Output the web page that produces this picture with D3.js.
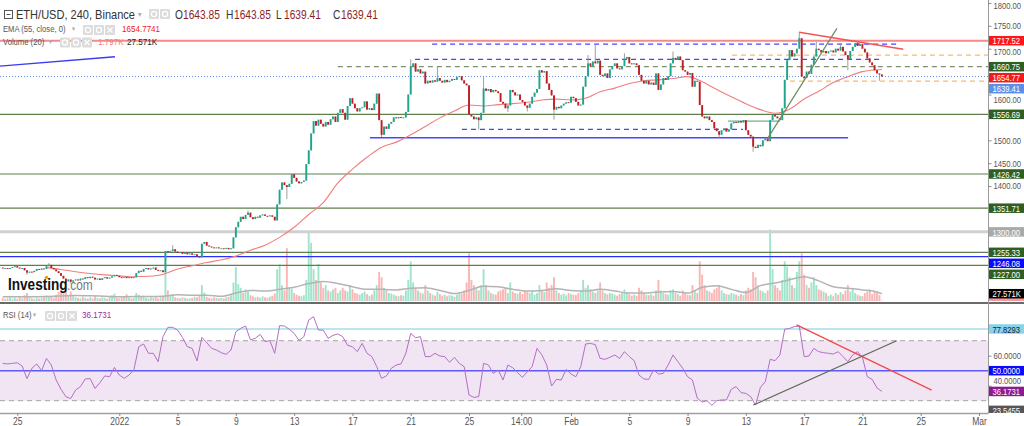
<!DOCTYPE html>
<html>
<head>
<meta charset="utf-8">
<script src="https://cdn.jsdelivr.net/npm/d3@7/dist/d3.min.js"></script>
<style>
  html, body { margin: 0; padding: 0; background: #fff; }
  svg { display: block; font-family: "Liberation Sans", Arial, sans-serif; }
</style>
</head>
<body>
<svg id="chart" width="1024" height="426"></svg>
<script>
// ---- data (4h candles, first one 24 Dec 00:00 UTC) ----
const firstOpen = 1222;
const closes = [
  1220,1221,1219,1221,1223,1225, 1222,1220,1221,1216,1211,1213, 1212,1215,1219,1217,1220,1219,
  1225,1228,1221,1218,1214,1210, 1204,1198,1192,1196,1191,1194, 1196,1194,1198,1197,1201,1199,
  1202,1200,1196,1198,1195,1199, 1201,1198,1200,1203,1206,1204, 1201,1200,1202,1199,1201,1199,
  1201,1210,1215,1213,1219,1221, 1218,1220,1222,1217,1215,1216, 1212,1258,1256,1258,1262,1257,
  1254,1256,1252,1254,1251,1253, 1250,1251,1247,1244,1274,1278, 1270,1268,1266,1265,1266,1264,
  1264,1263,1265,1262,1264,1288, 1310,1322,1333,1328,1337,1342, 1332,1328,1333,1331,1336,1338,
  1335,1334,1336,1333,1325,1360, 1392,1408,1402,1398,1405,1426, 1418,1410,1406,1409,1412,1448,
  1478,1515,1542,1532,1545,1536, 1530,1540,1534,1546,1552,1540, 1560,1568,1560,1545,1575,1592,
  1580,1570,1563,1570,1572,1585, 1567,1570,1566,1580,1602,1544, 1512,1530,1525,1536,1540,1550,
  1548,1551,1549,1550,1562,1600, 1661,1668,1650,1655,1646,1650, 1624,1630,1626,1631,1628,1636,
  1630,1626,1632,1627,1630,1634, 1632,1638,1640,1631,1624,1620, 1556,1552,1546,1550,1544,1560,
  1613,1608,1612,1605,1610,1607, 1603,1584,1580,1570,1576,1610, 1605,1598,1600,1588,1584,1576,
  1571,1580,1595,1604,1612,1653, 1648,1651,1624,1610,1598,1567, 1573,1570,1576,1580,1583,1582,
  1595,1592,1584,1576,1578,1617, 1640,1668,1662,1672,1668,1674, 1643,1640,1646,1636,1655,1662,
  1668,1657,1655,1662,1678,1682, 1668,1666,1668,1664,1643,1630, 1624,1630,1622,1626,1621,1646,
  1610,1622,1636,1632,1640,1668, 1680,1676,1683,1675,1653,1650, 1643,1647,1617,1630,1628,1577,
  1552,1548,1552,1544,1540,1526, 1520,1512,1522,1526,1519,1524, 1537,1540,1538,1542,1539,1544,
  1522,1512,1508,1486,1483,1490, 1487,1500,1504,1498,1544,1556, 1552,1548,1544,1570,1632,1675,
  1697,1683,1690,1700,1723,1639, 1636,1650,1645,1665,1683,1700, 1697,1692,1695,1690,1694,1696,
  1692,1700,1696,1704,1694,1686, 1677,1695,1704,1712,1706,1710, 1700,1692,1679,1670,1664,1653,
  1646,1643.85,1639.41
];
// notable wicks: [candle, high, low]
const wicks = [
  [10,null,1206],[19,1232,null],[28,null,1187],[70,1271,null],[101,1346,null],[117,null,1372],
  [156,null,1507],[168,1677,null],[179,1662,null],[196,null,1524],[198,1638,null],[208,null,1562],
  [216,null,1563],[227,null,1545],[241,1686,null],[244,1708,null],[256,1690,null],[276,1694,null],
  [295,null,1504],[309,null,1475],[328,1737,null],[330,null,1631],[335,1715,null],[345,1712,null],
  [348,null,1653],[352,1716,null],[361,null,1630]
];
// volume, thousands
const volumes = [
  12,8,10,14,9,12,8,16,10,22, 30,14,10,8,12,9,11,14,20,16, 18,12,24,34,40,30,42,22,36,18,
  14,12,10,16,12,9,14,10,18,12, 10,14,12,9,16,22,28,12,10,14, 18,26,14,10,12,30,24,16,20,12,
  10,14,12,16,10,14,18,110,40,22, 26,14,12,10,14,12,9,10,12,16, 14,22,60,32,16,12,10,14,12,10,
  12,10,14,16,22,70,128,64,50,30, 44,36,22,18,14,16,12,18,14,12, 16,20,28,120,138,60,40,200,50,46,
  30,24,20,18,22,80,260,220,120,80, 140,70,50,60,40,36,44,50,30,40, 50,40,36,60,44,30,28,24,30,36,
  26,20,24,40,60,110,90,50,40,30, 28,24,20,18,22,20,40,80,150,70, 50,40,32,28,60,40,30,24,20,34,
  26,20,24,18,22,20,16,24,30,28, 40,70,180,80,60,50,40,60,120,60, 40,30,26,24,36,40,44,50,30,70,
  36,30,28,34,26,40,36,30,40,24, 30,60,40,34,70,50,60,90,40,30, 24,28,22,30,26,24,22,30,40,80,
  50,60,44,36,30,40,70,40,30,26, 30,28,24,20,26,30,44,34,26,20, 24,20,50,40,30,24,22,26,20,40,
  80,40,30,26,24,40,44,30,26,20, 40,30,24,22,60,40,30,150,100,60, 40,36,30,44,50,60,40,30,26,24,
  30,28,24,20,26,22,40,50,44,110, 90,60,40,36,30,40,270,120,60,50, 40,80,150,130,90,60,50,110,150,180,
  100,60,50,70,90,60,44,40,36,30, 20,24,18,30,24,34,26,40,60,36, 50,30,24,20,18,30,36,44,26,34,
  30,22,1.797
];
// volume MA(20): [candle, value]
const volMA = [
  [0,16],[6,16],[12,16],[18,17],[24,19],[30,21],[36,20],[42,18],[48,16],[54,17],
  [60,17],[66,18],[72,24],[78,22],[84,22],[90,18],[96,30],[102,40],[108,38],[114,44],
  [120,52],[126,66],[132,74],[138,66],[144,54],[150,44],[156,44],[162,42],[168,48],[174,50],
  [180,40],[186,28],[192,40],[198,56],[204,54],[210,44],[216,38],[222,40],[228,46],[234,40],
  [240,38],[246,44],[252,38],[258,30],[264,30],[270,34],[276,36],[282,30],[288,52],[294,58],
  [300,44],[306,32],[312,58],[318,68],[324,80],[330,92],[336,76],[342,54],[348,48],[354,42],
  [360,34],[362,27.571]
];
// EMA(55): [candle, value]
const emaPts = [
  [18,1222],[24,1218],[30,1213],[36,1209],[42,1206],[48,1204],[54,1202],[60,1203],[66,1207],[72,1219],
  [78,1226],[84,1233],[90,1239],[96,1247],[102,1260],[108,1271],[114,1288],[120,1310],[126,1338],[132,1364],
  [138,1407],[144,1437],[150,1463],[156,1485],[162,1496],[168,1512],[174,1530],[180,1549],[186,1564],[192,1577],
  [198,1575],[204,1578],[210,1580],[216,1583],[222,1588],[228,1590],[234,1588],[240,1592],[246,1606],[252,1614],
  [258,1624],[264,1630],[270,1632],[276,1635],[282,1639],[288,1628],[294,1611],[300,1595],[306,1580],[312,1567],
  [318,1559],[324,1568],[330,1590],[336,1607],[342,1626],[348,1639],[354,1650],[360,1654],[362,1654.77]
];
// RSI(14), one reading every 2 candles
const rsiVals = [
  54.9,54.5,54.9,55.3,53.1,44.7,51.6,54.5,50,58.2, 53.8,43.8,37.6,32.7,31.4,37.1,39.4,44.5,44.7,38.2,
  42,46.5,46,52.2,47.1,44.9,47.1,50.5,66,67.8, 61.6,61.6,56,72.7,78.9,78.9,77.1,72.2,66,64.9,
  56.5,72.2,68.7,64.9,63.8,62,60.9,63.8,76,78.2, 79.8,70.5,71.6,74.2,69.4,70,61.6,80,79.8,77.6,
  74.9,70.2,72.7,83.8,86,77.1,77.1,71.6,73.6,74.5, 72.7,66.9,66,62.7,68.2,61.6,59.4,52.7,44.9,46.5,
  51.6,53.8,54.5,61.6,74.9,72,72.7,59.4,59.4,61.6, 59.8,59.4,55.6,58.9,54.9,52.7,33.8,32.2,32.7,54.9,
  53.8,48.2,50.5,43.8,53.8,52,48.7,45.6,49.3,52.7, 64.9,60.5,53.8,39.8,44.2,43.8,50.9,47.8,46,52.7,
  67.8,68.2,67.4,58.2,57.6,58.9,60.5,58.2,62.7,59.4, 56.7,47.1,44.5,44.2,50.5,47.8,48.2,53.8,60.5,56,
  51.6,46,43.8,31.6,29.1,30,26.9,30,30.5,30.5, 37.6,39.4,35.4,34.9,32.7,27.1,38.9,42.7,57.6,56.7,
  60.5,77.6,78.2,79.4,79.8,59.4,59.8,64.9,62.7,62, 61.6,61.1,62.7,59.4,56,60.5,62.7,58.9,46,44.2,
  38.5,36.17
];

// horizontal levels
const levelGreen = [1556.69, 1426.42, 1351.71, 1255.33, 1227.00];
const levelRed = 1717.52;
const levelGrey = 1300.00;
const levelBlue = 1246.08;
const pivotLevel = 1660.75;
const lastClose = 1639.41;
const emaLast = 1654.77;
const rsiLevel = 77.8293;
const rsiLast = 36.1731;
const rsiLow = 23.5455;
const volLast = 1.797, volMALast = 27.571;

// drawings in data space: [candleFrom, candleTo, price]
const blueDashed = [[176.8, 368.6, 1710.2], [169.8, 362.1, 1676.8], [189.1, 304.8, 1524.0]];
const blueSolid = [151.2, 348.1, 1505.6];
const orangeDashed = [[300.3, 410, 1686.2], [324.2, 410, 1629.4]];
const tealSeg = [298.6, 320, 1542];
const pivotFrom = 138;
const riseTrend = [[314.7, 1502], [343.5, 1744.5]];
const fallTrend = [[328, 1735.8], [370.8, 1698.7]];
const oldTrend = [[-1.2, 1662], [46.2, 1682.5]];
const rsiFall = [[326.9, 80.5], [382.5, 37.1]];
const rsiRise = [[309.1, 27.1], [368.1, 70]];

const xTickDates = [
  [2021,11,25],[2022,0,1],[2022,0,5],[2022,0,9],[2022,0,13],[2022,0,17],[2022,0,21],[2022,0,25],
  [2022,0,28,14],[2022,1,1],[2022,1,5],[2022,1,9],[2022,1,13],[2022,1,17],[2022,1,21],[2022,1,25],[2022,2,1]
].map(a => new Date(Date.UTC(a[0], a[1], a[2], a[3] || 0)));
const xTickLabels = ['25','2022','5','9','13','17','21','25','14:00','Feb','5','9','13','17','21','25','Mar'];
// scale labels left uncovered by the value tags
const priceTicks = [1800, 1750, 1700, 1600, 1500, 1450, 1400];
const rsiTicks = [60, 40];

// ---- layout ----
const plotR = 988.5;
const priceBot = 301;
const rsiTop = 304, rsiBot = 413;
const SX = 0.85; // fonts on this capture are horizontally squeezed

const svg = d3.select('#chart');
const t0 = Date.UTC(2021, 11, 24);
const tOf = i => new Date(t0 + i * 4 * 3600 * 1000);

const x = d3.scaleUtc()
  .domain([new Date(Date.UTC(2021, 11, 25)), new Date(Date.UTC(2022, 2, 1))])
  .range([17.3, 979]);
const xi = i => x(tOf(i));
const yP = d3.scaleLinear().domain([1227, 1717.52]).range([265.3, 40.7]);
const yV = d3.scaleLinear().domain([0, 270]).range([priceBot, 229.6]);
const yR = d3.scaleLinear().domain([30, 70]).range([400.7, 340.7]);

const candles = closes.map((c, i) => {
  const o = i === 0 ? firstOpen : closes[i - 1];
  return { i, o, c, h: Math.max(o, c), l: Math.min(o, c), v: volumes[i] };
});
wicks.forEach(([i, hi, lo]) => {
  if (hi != null) candles[i].h = Math.max(candles[i].h, hi);
  if (lo != null) candles[i].l = Math.min(candles[i].l, lo);
});

function txt(g, px, py, s, o = {}) {
  return g.append('text')
    .attr('transform', `translate(${px},${py}) scale(${SX},1)`)
    .attr('font-size', o.size || 11)
    .attr('font-weight', o.weight || 'normal')
    .attr('fill', o.fill || '#333')
    .attr('text-anchor', o.anchor || 'start')
    .attr('dominant-baseline', o.base || 'auto')
    .text(s);
}

const defs = svg.append('defs');
defs.append('clipPath').attr('id', 'clipP').append('rect').attr('x', 0).attr('y', 0).attr('width', plotR).attr('height', priceBot);
defs.append('clipPath').attr('id', 'clipR').append('rect').attr('x', 0).attr('y', rsiTop).attr('width', plotR).attr('height', rsiBot - rsiTop);
defs.append('clipPath').attr('id', 'clipTagP').append('rect').attr('x', 0).attr('y', 0).attr('width', 1024).attr('height', priceBot);
defs.append('clipPath').attr('id', 'clipTagR').append('rect').attr('x', 0).attr('y', rsiTop).attr('width', 1024).attr('height', rsiBot - rsiTop);

// ================= price pane =================
const gp = svg.append('g').attr('clip-path', 'url(#clipP)');

// volume
gp.append('g').selectAll('rect').data(candles).join('rect')
  .attr('x', d => xi(d.i) - 0.95).attr('width', 1.9)
  .attr('y', d => yV(d.v)).attr('height', d => priceBot - yV(d.v))
  .attr('fill', d => d.c >= d.o ? '#a2e3cc' : '#f8b6b4');
gp.append('path').datum(volMA)
  .attr('fill', 'none').attr('stroke', '#b4b4b4').attr('stroke-width', 1.5)
  .attr('d', d3.line().x(d => xi(d[0])).y(d => yV(d[1])).curve(d3.curveMonotoneX));

// level lines
const hline = (p, color, w, dash, from, to) => gp.append('line')
  .attr('x1', from == null ? 0 : xi(from)).attr('x2', to == null ? plotR : Math.min(plotR, xi(to)))
  .attr('y1', yP(p)).attr('y2', yP(p))
  .attr('stroke', color).attr('stroke-width', w).attr('stroke-dasharray', dash || null);

hline(levelGrey, '#d0d0d0', 3);
levelGreen.forEach(p => hline(p, '#5e7f4c', 1.2));
hline(levelBlue, '#2c2cff', 1.2);
hline(levelRed, '#f48a8a', 2);
hline(lastClose, '#5b8ee8', 1, '1,2');
hline(pivotLevel, '#7d8f74', 1.3, '5,4', pivotFrom);
blueDashed.forEach(([a, b, p]) => hline(p, '#4646ff', 1.2, '5,4', a, b));
hline(blueSolid[2], '#4646ff', 1.3, null, blueSolid[0], blueSolid[1]);
orangeDashed.forEach(([a, b, p]) => hline(p, '#ffb768', 1.3, '5,4', a, b));
hline(tealSeg[2], '#6aaea0', 1.3, null, tealSeg[0], tealSeg[1]);

// EMA
gp.append('path').datum(emaPts)
  .attr('fill', 'none').attr('stroke', '#f37d7d').attr('stroke-width', 1.1)
  .attr('d', d3.line().x(d => xi(d[0])).y(d => yP(d[1])).curve(d3.curveMonotoneX));

// candles
const gc = gp.append('g');
gc.selectAll('line').data(candles).join('line')
  .attr('x1', d => xi(d.i)).attr('x2', d => xi(d.i))
  .attr('y1', d => yP(d.h)).attr('y2', d => yP(d.l))
  .attr('stroke', '#8a9893').attr('stroke-width', 0.9);
gc.selectAll('rect').data(candles).join('rect')
  .attr('x', d => xi(d.i) - 0.95).attr('width', 1.9)
  .attr('y', d => yP(Math.max(d.o, d.c)))
  .attr('height', d => Math.max(0.9, Math.abs(yP(d.o) - yP(d.c))))
  .attr('fill', d => d.c >= d.o ? '#1fa58d' : '#c01d22');

// trend lines
const seg = (pts, color, w) => gp.append('line')
  .attr('x1', xi(pts[0][0])).attr('y1', yP(pts[0][1]))
  .attr('x2', xi(pts[1][0])).attr('y2', yP(pts[1][1]))
  .attr('stroke', color).attr('stroke-width', w);
seg(riseTrend, '#6f8a5c', 1.2);
seg(fallTrend, '#f25555', 1.5);
seg(oldTrend, '#3b3bf0', 1.3);

// watermark
const wm = svg.append('g');
txt(wm, 8, 290, 'Investing', { size: 16, weight: 'bold', fill: '#111' });
txt(wm, 67, 290, '.com', { size: 14, fill: '#777' });
wm.append('circle').attr('cx', 46.5).attr('cy', 277.5).attr('r', 1.8).attr('fill', '#f39c12');

// ================= RSI pane =================
const gr = svg.append('g').attr('clip-path', 'url(#clipR)');
gr.append('rect').attr('x', 0).attr('width', plotR)
  .attr('y', yR(70)).attr('height', yR(30) - yR(70)).attr('fill', '#f1e5f3');
[70, 30].forEach(v => gr.append('line').attr('x1', 0).attr('x2', plotR).attr('y1', yR(v)).attr('y2', yR(v))
  .attr('stroke', '#a9a2a9').attr('stroke-width', 1).attr('stroke-dasharray', '5,4'));
gr.append('line').attr('x1', 0).attr('x2', plotR).attr('y1', yR(rsiLevel)).attr('y2', yR(rsiLevel))
  .attr('stroke', '#a6dcec').attr('stroke-width', 1.5);
gr.append('line').attr('x1', 0).attr('x2', plotR).attr('y1', yR(50)).attr('y2', yR(50))
  .attr('stroke', '#5a5aff').attr('stroke-width', 1.5);
gr.append('path').datum(rsiVals)
  .attr('fill', 'none').attr('stroke', '#b26fc4').attr('stroke-width', 1)
  .attr('d', d3.line().x((d, k) => xi(k * 2)).y(d => yR(d)));
const rseg = (pts, color, w) => gr.append('line')
  .attr('x1', xi(pts[0][0])).attr('y1', yR(pts[0][1]))
  .attr('x2', xi(pts[1][0])).attr('y2', yR(pts[1][1]))
  .attr('stroke', color).attr('stroke-width', w);
rseg(rsiFall, '#f04a4a', 1.3);
rseg(rsiRise, '#5c6650', 1.1);

// pane separator and frame
svg.append('rect').attr('x', 0).attr('y', 302).attr('width', 1024).attr('height', 2).attr('fill', '#6a6a6a');
svg.append('line').attr('x1', plotR).attr('x2', plotR).attr('y1', 0).attr('y2', rsiBot)
  .attr('stroke', '#9a9a9a').attr('stroke-width', 1);

// ================= axes =================
function styleAxis(g, dx) {
  g.attr('font-family', null).attr('font-size', null);
  g.select('.domain').remove();
  g.selectAll('.tick line').attr('stroke', '#8a8a8a');
  g.selectAll('.tick text').attr('x', null).attr('dy', '0.32em')
    .attr('transform', `translate(${dx},0) scale(${SX},1)`)
    .attr('font-size', 9).attr('fill', '#555');
}
// labels the value tags would otherwise sit on are nudged clear of them
const nudge = { 1800: 3, 1700: 3, 1600: 5, 40: -5 };
const axP = svg.append('g').attr('transform', `translate(${plotR},0)`)
  .call(d3.axisRight(yP).tickValues(priceTicks).tickSize(3).tickFormat(d3.format('.2f')));
styleAxis(axP, 5);
axP.selectAll('.tick text').attr('transform', d => `translate(5,${nudge[d] || 0}) scale(${SX},1)`);
const axR = svg.append('g').attr('transform', `translate(${plotR},0)`)
  .call(d3.axisRight(yR).tickValues(rsiTicks).tickSize(3).tickFormat(d3.format('.4f')));
styleAxis(axR, 5);
axR.selectAll('.tick text').attr('transform', d => `translate(5,${nudge[d] || 0}) scale(${SX},1)`);

svg.append('line').attr('x1', 0).attr('x2', plotR).attr('y1', rsiBot + 0.5).attr('y2', rsiBot + 0.5)
  .attr('stroke', '#a0a0a0').attr('stroke-width', 1.6);
const axX = svg.append('g').attr('transform', `translate(0,${rsiBot})`)
  .call(d3.axisBottom(x).tickValues(xTickDates).tickSize(3).tickPadding(2).tickFormat((d, k) => xTickLabels[k]));
axX.attr('font-family', null).attr('font-size', null);
axX.select('.domain').remove();
axX.selectAll('.tick line').attr('stroke', '#8a8a8a');
axX.selectAll('.tick text').attr('transform', `scale(${SX},1)`).attr('font-size', 10).attr('fill', '#555');

// ================= value tags on the right =================
function drawTags(tags, scale, clip) {
  const g = svg.append('g').attr('clip-path', `url(#${clip})`);
  const items = tags.map(t => Object.assign({}, t, { y: scale(t.v) })).sort((a, b) => a.y - b.y);
  for (let k = 1; k < items.length; k++) {
    if (items[k].y < items[k - 1].y + 11) items[k].y = items[k - 1].y + 11;
  }
  items.forEach(t => {
    g.append('rect').attr('x', plotR + 0.5).attr('y', t.y - 4.75).attr('width', 36).attr('height', 9.5).attr('fill', t.bg);
    if (t.text) txt(g, plotR + 4, t.y + 0.5, t.text, { size: 9, fill: t.fg, base: 'central' });
  });
}
const green = '#2f5e21';
drawTags([
  { v: levelRed, text: levelRed.toFixed(2), bg: '#ff1616', fg: '#fff' },
  { v: pivotLevel, text: pivotLevel.toFixed(2), bg: green, fg: '#fff' },
  { v: emaLast, text: emaLast.toFixed(2), bg: '#f21b1b', fg: '#fff' },
  { v: lastClose, text: lastClose.toFixed(2), bg: '#5c8fe8', fg: '#fff' },
  ...levelGreen.map(v => ({ v, text: v.toFixed(2), bg: green, fg: '#fff' })),
  { v: levelGrey, text: levelGrey.toFixed(2), bg: '#a9a9a9', fg: '#fff' },
  { v: levelBlue, text: levelBlue.toFixed(2), bg: '#0a0aff', fg: '#fff' }
], yP, 'clipTagP');
// the last-volume tag sits almost entirely under the MA tag: only its edge shows
drawTags([{ v: volLast, text: null, bg: '#f59a9a', fg: '#fff' }], yV, 'clipTagP');
drawTags([{ v: volMALast, text: volMALast + 'K', bg: '#000', fg: '#fff' }], yV, 'clipTagP');
drawTags([
  { v: rsiLevel, text: rsiLevel.toFixed(4), bg: '#86d3ea', fg: '#123' },
  { v: 50, text: (50).toFixed(4), bg: '#0a0aff', fg: '#fff' },
  { v: rsiLast, text: rsiLast.toFixed(4), bg: '#8c1c8f', fg: '#fff' },
  { v: rsiLow, text: rsiLow.toFixed(4), bg: '#555', fg: '#fff' }
], yR, 'clipTagR');

// ================= legends =================
function icons(g, x0, y0, n) {
  for (let k = 0; k < n; k++) {
    const ix = x0 + k * 11;
    g.append('rect').attr('x', ix).attr('y', y0).attr('width', 10).attr('height', 10).attr('rx', 1).attr('fill', '#dcdcdc');
    if (k === 2) {
      g.append('path').attr('d', `M${ix + 2.5},${y0 + 2.5}L${ix + 7.5},${y0 + 7.5}M${ix + 7.5},${y0 + 2.5}L${ix + 2.5},${y0 + 7.5}`)
        .attr('stroke', '#fff').attr('stroke-width', 1.2);
    } else {
      g.append('circle').attr('cx', ix + 5).attr('cy', y0 + 5).attr('r', 2.6).attr('fill', 'none').attr('stroke', '#fff').attr('stroke-width', 1.2);
    }
  }
}
const lg = svg.append('g');
lg.append('rect').attr('x', 4.5).attr('y', 10.5).attr('width', 8).attr('height', 8).attr('fill', 'none').attr('stroke', '#555');
lg.append('line').attr('x1', 6.5).attr('x2', 10.5).attr('y1', 14.5).attr('y2', 14.5).attr('stroke', '#555');
txt(lg, 16, 18.5, 'ETH/USD, 240, Binance', { size: 13, fill: '#333' });
txt(lg, 138, 17, '▾', { size: 8, fill: '#aaa' });
icons(lg, 149, 9, 2);
const ohlc = [['O', 175, 1643.85], ['H', 226, 1643.85], ['L', 276, 1639.41], ['C', 333, 1639.41]];
ohlc.forEach(([k, px, v]) => {
  txt(lg, px, 18.5, k, { size: 12, fill: '#333' });
  txt(lg, px + 8, 18.5, v.toFixed(2), { size: 12, fill: '#8e1f1f' });
});
txt(lg, 3, 31.5, 'EMA (55, close, 0)', { size: 9, fill: '#555' });
txt(lg, 72, 31, '▾', { size: 7, fill: '#aaa' });
icons(lg, 83, 25, 3);
txt(lg, 122, 31.5, '1654.7741', { size: 9.5, fill: '#f02020' });
txt(lg, 3, 44.5, 'Volume (20)', { size: 9, fill: '#555' });
txt(lg, 49, 44, '▾', { size: 7, fill: '#aaa' });
icons(lg, 60, 37.5, 3);
txt(lg, 98, 44.5, '1.797K', { size: 9.5, fill: '#f27b7b' });
txt(lg, 127, 44.5, '27.571K', { size: 9.5, fill: '#222' });
txt(lg, 3, 317.5, 'RSI (14)', { size: 9, fill: '#555' });
txt(lg, 33, 317, '▾', { size: 7, fill: '#aaa' });
icons(lg, 45, 311, 3);
txt(lg, 82, 317.5, '36.1731', { size: 9.5, fill: '#9c2aa0' });
</script>
</body>
</html>
